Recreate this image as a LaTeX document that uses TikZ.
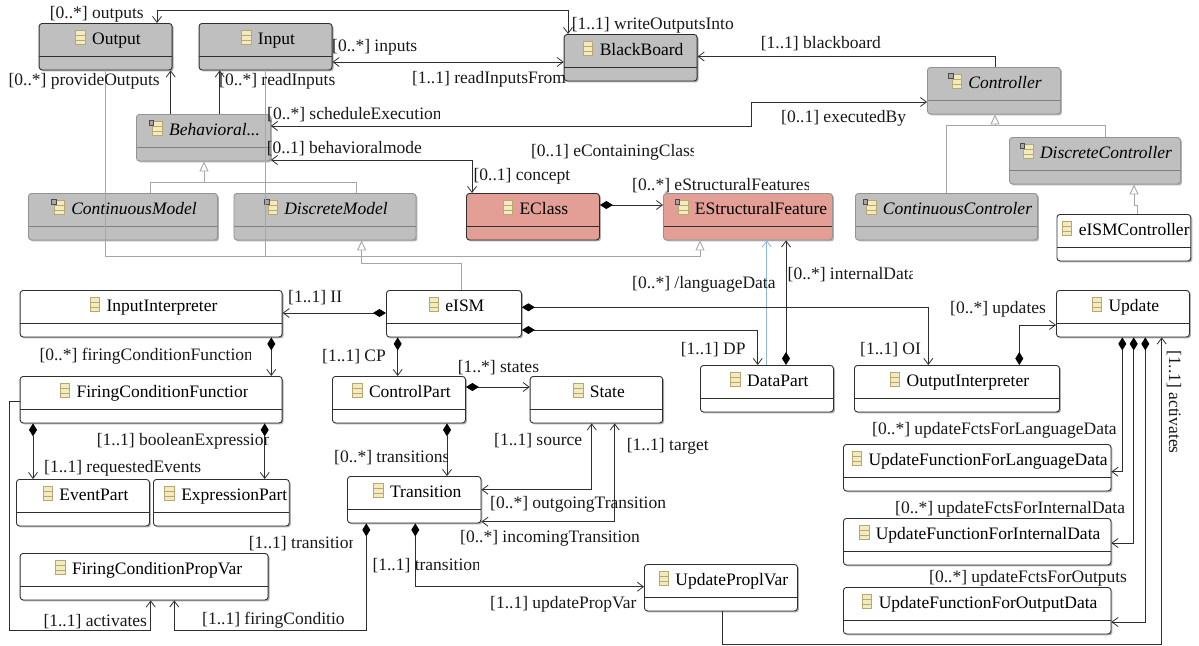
\documentclass[tikz,border=0pt]{standalone}
\usepackage{fontspec}
\usepackage{trimclip}
\setmainfont{Liberation Serif}
\usetikzlibrary{arrows.meta,shadows}
\definecolor{boxgray}{HTML}{BFBFBF}
\definecolor{boxred}{HTML}{E39F95}
\definecolor{linegray}{HTML}{A6A6A6}
\definecolor{edgedark}{HTML}{2E2E2E}
\definecolor{iconfill}{HTML}{F3EBBE}
\definecolor{iconedge}{HTML}{B5A873}
\definecolor{derivedblue}{HTML}{8FB4DE}
\newcommand{\clsicon}{\hspace*{5pt}\tikz[baseline=-2pt,x=1pt,y=1pt,sharp corners]{\path[fill=iconfill,draw=iconedge,line width=.8pt] (0,-2) rectangle (9.5,12); \draw[iconedge,line width=.7pt] (0,2.6)--(9.5,2.6) (0,7.3)--(9.5,7.3);}\hspace{6.5pt}}
\newcommand{\absicon}{\hspace*{2pt}\tikz[baseline=-2pt,x=1pt,y=1pt,sharp corners]{\path[fill=iconfill,draw=iconedge,line width=.8pt] (0,-2) rectangle (9.5,12); \draw[iconedge,line width=.7pt] (0,2.6)--(9.5,2.6) (0,7.3)--(9.5,7.3); \path[fill=gray!70,draw=black!70,line width=.4pt] (-3.5,8) rectangle (1,13);}\hspace{6.5pt}}
\newcommand{\cut}[2]{\clipbox*{0pt -6pt #1pt 20pt}{#2}}
\tikzset{
  classbox/.style={draw=edgedark,line width=.9pt,fill=white,rounded corners=3pt,anchor=north west,inner sep=0pt,text height=21pt,text depth=25.5pt,
    drop shadow={shadow xshift=1.5pt,shadow yshift=-1.5pt,opacity=.3,fill=black},
    path picture={\draw[edgedark,line width=.9pt] ([yshift=14pt]path picture bounding box.south west) -- ([yshift=14pt]path picture bounding box.south east);}},
  grayclass/.style={classbox,fill=boxgray},
  redclass/.style={classbox,fill=boxred},
  absclass/.style={classbox,draw=gray!85,fill=boxgray,font=\fontsize{17.5}{20}\selectfont\itshape,
    path picture={\draw[gray,line width=.9pt] ([yshift=14pt]path picture bounding box.south west) -- ([yshift=14pt]path picture bounding box.south east);}},
  lbl/.style={anchor=base west,inner sep=0pt,text=black!90},
  link/.style={draw=edgedark,line width=.9pt},
  isa/.style={draw=linegray,line width=.9pt},
  openend/.tip={Straight Barb[length=6pt,width=9pt,line width=.8pt]},
  hollow/.tip={Triangle[open,length=10pt,width=9pt,fill=white]},
  comp/.tip={Diamond[length=13pt,width=8pt,fill=black,color=black]}
}
\begin{document}
\begin{tikzpicture}[x=1pt,y=-1pt,every node/.append style={font=\fontsize{17.5}{20}\selectfont}]
\useasboundingbox (0,0) rectangle (1199,645);
\node[grayclass,minimum width=133pt] (output) at (38.7,23) {\clsicon Output};
\node[grayclass,minimum width=133pt] (input) at (198.6,23) {\clsicon Input};
\node[grayclass,minimum width=133pt] (blackboard) at (563.7,34) {\clsicon BlackBoard};
\node[absclass,minimum width=133pt] (controller) at (927,67) {\absicon Controller};
\node[absclass,minimum width=134pt] (behavioral) at (136,114) {\absicon Behavioral...};
\node[absclass,minimum width=171pt] (discretecontroller) at (1009,137) {\absicon DiscreteController};
\node[absclass,minimum width=189pt] (continuousmodel) at (28,193) {\absicon ContinuousModel};
\node[absclass,minimum width=182pt] (discretemodel) at (233.5,193) {\absicon DiscreteModel};
\node[redclass,minimum width=133pt] (eclass) at (466,193) {\clsicon EClass};
\node[redclass,draw=gray!85,minimum width=169pt] (estructuralfeature) at (663,193) {\hspace*{4pt}\absicon EStructuralFeature};
\node[absclass,minimum width=182pt] (continuouscontroler) at (855,193) {\absicon ContinuousControler};
\node[classbox,minimum width=133.5pt] (eismcontroller) at (1056.5,214) {\clsicon\cut{112}{eISMController}};
\node[classbox,minimum width=262pt] (inputinterpreter) at (19.7,290) {\clsicon InputInterpreter};
\node[classbox,minimum width=135pt] (eism) at (386,290) {\clsicon eISM};
\node[classbox,minimum width=133pt] (update) at (1056,290) {\clsicon Update};
\node[classbox,minimum width=262pt] (firingfunction) at (19.7,376) {\clsicon\cut{171}{FiringConditionFunction}};
\node[classbox,minimum width=133pt] (controlpart) at (332,376) {\clsicon ControlPart};
\node[classbox,minimum width=132.5pt] (state) at (529.7,376) {\clsicon State};
\node[classbox,minimum width=133pt] (datapart) at (700,365) {\clsicon DataPart};
\node[classbox,minimum width=205pt] (outputinterpreter) at (854,365) {\clsicon OutputInterpreter};
\node[classbox,minimum width=133pt] (eventpart) at (16,479) {\clsicon EventPart};
\node[classbox,minimum width=133pt] (expressionpart) at (153,479) {\hspace*{6pt}\clsicon\cut{108}{ExpressionPart}};
\node[classbox,minimum width=133.5pt] (transition) at (347,476) {\clsicon\cut{70}{Transition}};
\node[classbox,minimum width=248pt] (firingpropvar) at (19.7,553) {\hspace*{3pt}\clsicon\cut{169}{FiringConditionPropVar}};
\node[classbox,minimum width=153pt] (updatepropvar) at (644,564) {\clsicon UpdateProplVar};
\node[classbox,minimum width=267.5pt] (funclanguage) at (843,444) {\clsicon UpdateFunctionForLanguageData};
\node[classbox,minimum width=267.5pt] (funcinternal) at (843,518) {\clsicon UpdateFunctionForInternalData};
\node[classbox,minimum width=267.5pt] (funcoutput) at (843,587) {\clsicon UpdateFunctionForOutputData};
% inheritance
\draw[isa,-{hollow}] (461,0 |- eism.north) |- (361.6,263) -- (361.6,0 |- discretemodel.south);
\draw[isa] (105.4,0 |- output.south) |- (700,256);
\draw[isa,-{hollow}] (265,0 |- input.south) |- (700,256) -- (700,0 |- estructuralfeature.south);
\draw[isa,-{hollow}] (150.4,0 |- continuousmodel.north) |- (204,182) -- (204,0 |- behavioral.south);
\draw[isa] (356,0 |- discretemodel.north) |- (204,182);
\draw[isa,-{hollow}] (946,0 |- continuouscontroler.north) |- (995,125.7) -- (995,0 |- controller.south);
\draw[isa] (1105,0 |- discretecontroller.north) |- (995,125.7);
\draw[isa,-{hollow}] (1137,0 |- eismcontroller.north) |- (1134,205) -- (1134,0 |- discretecontroller.south);
% references
\draw[link,{openend}-{openend}] (157,0 |- output.north) |- (568,10) -- (568,0 |- blackboard.north);
\draw[link,{openend}-{openend}] (input.east |- 0,62) -- (blackboard.west |- 0,62);
\draw[link,-{openend}] (170.7,0 |- behavioral.north) -- (170.7,0 |- output.south);
\draw[link,-{openend}] (219.7,0 |- behavioral.north) -- (219.7,0 |- input.south);
\draw[link,{openend}-{openend}] (behavioral.east |- 0,126) -| (751.5,102) -- (controller.west |- 0,102);
\draw[link,{openend}-{openend}] (behavioral.east |- 0,160) -| (472,0 |- eclass.north);
\draw[link,-{openend}] (995,0 |- controller.north) |- (blackboard.east |- 0,56.5);
\draw[link,{comp}-{openend}] (eclass.east |- 0,205) -- (estructuralfeature.west |- 0,205);
\draw[draw=derivedblue,line width=.9pt,-{openend}] (766.7,0 |- datapart.north) -- (766.7,0 |- estructuralfeature.south);
\draw[link,{comp}-{openend}] (786,0 |- datapart.north) -- (786,0 |- estructuralfeature.south);
\draw[link,{comp}-{openend}] (eism.west |- 0,313) -- (inputinterpreter.east |- 0,313);
\draw[link,{comp}-{openend}] (397.7,0 |- eism.south) -- (397.7,0 |- controlpart.north);
\draw[link,{comp}-{openend}] (271.3,0 |- inputinterpreter.south) -- (271.3,0 |- firingfunction.north);
\draw[link,{comp}-{openend}] (33,0 |- firingfunction.south) -- (33,0 |- eventpart.north);
\draw[link,{comp}-{openend}] (264.7,0 |- firingfunction.south) -- (264.7,0 |- expressionpart.north);
\draw[link,-{openend}] (firingfunction.west |- 0,401) -| (9.3,630) -| (150.7,0 |- firingpropvar.south);
\draw[link,{comp}-{openend}] (366.3,0 |- transition.south) |- (174.3,630) -- (174.3,0 |- firingpropvar.south);
\draw[link,{comp}-{openend}] (415.3,0 |- transition.south) |- (updatepropvar.west |- 0,586.7);
\draw[link,{comp}-{openend}] (controlpart.east |- 0,387) -- (state.west |- 0,387);
\draw[link,{comp}-{openend}] (447,0 |- controlpart.south) -- (447,0 |- transition.north);
\draw[link,{openend}-{openend}] (transition.east |- 0,489.7) -| (591.7,0 |- state.south);
\draw[link,{openend}-{openend}] (transition.east |- 0,521.7) -| (614.7,0 |- state.south);
\draw[link,{comp}-{openend}] (eism.east |- 0,330) -| (757.7,0 |- datapart.north);
\draw[link,{comp}-{openend}] (eism.east |- 0,307.3) -| (928.3,0 |- outputinterpreter.north);
\draw[link,{comp}-{openend}] (1019.3,0 |- outputinterpreter.north) |- (update.west |- 0,325);
\draw[link,{comp}-{openend}] (1122.3,0 |- update.south) |- (funclanguage.east |- 0,471.7);
\draw[link,{comp}-{openend}] (1133.7,0 |- update.south) |- (funcinternal.east |- 0,543);
\draw[link,{comp}-{openend}] (1145.3,0 |- update.south) |- (funcoutput.east |- 0,622);
\draw[link,-{openend}] (722,0 |- updatepropvar.south) |- (1161.7,644) -- (1161.7,0 |- update.south);
% labels
\node[lbl] (lbloutputs) at (49.7,18.7) {[0..*] outputs};
\node[lbl] (lblwrite) at (571.7,29) {[1..1] writeOutputsInto};
\node[lbl] (lblinputs) at (332,51.7) {[0..*] inputs};
\node[lbl] (lblreadfrom) at (411.8,83) {[1..1] readInputsFrom};
\node[lbl] (lblprovide) at (8.4,85.7) {[0..*] provideOutputs};
\node[lbl] (lblread) at (219,85.7) {[0..*] readInputs};
\node[lbl] (lblschedule) at (267,119) {\cut{172}{[0..*] scheduleExecution}};
\node[lbl] (lblmode) at (266.7,153.7) {[0..1] behavioralmode};
\node[lbl] (lblcontaining) at (530.8,156) {\cut{162}{[0..1] eContainingClass}};
\node[lbl] (lblconcept) at (473.4,180) {[0..1] concept};
\node[lbl] (lblblackboard) at (760.7,48) {[1..1] blackboard};
\node[lbl] (lblexecuted) at (781,122) {[0..1] executedBy};
\node[lbl] (lblfeatures) at (632,190) {\cut{176}{[0..*] eStructuralFeatures}};
\node[lbl] (lbllanguage) at (632,288) {[0..*] /languageData};
\node[lbl] (lblinternal) at (787.5,279) {\cut{125}{[0..*] internalData}};
\node[lbl] (lblii) at (288,302) {[1..1] II};
\node[lbl] (lblfunction) at (39.3,360) {\cut{211}{[0..*] firingConditionFunction}};
\node[lbl] (lblcp) at (322,361.7) {[1..1] CP};
\node[lbl] (lblstates) at (457.7,372) {[1..*] states};
\node[lbl] (lblboolean) at (96.7,445.7) {\cut{172}{[1..1] booleanExpression}};
\node[lbl] (lblevents) at (44,472) {[1..1] requestedEvents};
\node[lbl] (lbltransitions) at (334,462) {\cut{113}{[0..*] transitions}};
\node[lbl] (lblsource) at (494,445.7) {[1..1] source};
\node[lbl] (lbltarget) at (626.7,450) {[1..1] target};
\node[lbl] (lbloutgoing) at (490,508) {[0..*] outgoingTransition};
\node[lbl] (lblincoming) at (460,542) {[0..*] incomingTransition};
\node[lbl] (lbltransa) at (248.7,548) {\cut{104}{[1..1] transition}};
\node[lbl] (lbltransb) at (372.3,570) {\cut{106}{[1..1] transition}};
\node[lbl] (lblpropvar) at (490,608) {[1..1] updatePropVar};
\node[lbl] (lblactivatesa) at (43.3,626) {\cut{103}{[1..1] activates}};
\node[lbl] (lblcondition) at (202,624) {\cut{142}{[1..1] firingCondition}};
\node[lbl] (lbldp) at (680.7,354) {[1..1] DP};
\node[lbl] (lbloi) at (860,354) {[1..1] OI};
\node[lbl] (lblupdates) at (950,313) {[0..*] updates};
\node[lbl] (lblfctlang) at (872,434) {[0..*] updateFctsForLanguageData};
\node[lbl] (lblfctint) at (895,513) {[0..*] updateFctsForInternalData};
\node[lbl] (lblfctout) at (929,582) {[0..*] updateFctsForOutputs};
\node[lbl,rotate=-90] (lblactivatesb) at (1169,350) {[1..1] activates};
\end{tikzpicture}
\end{document}
